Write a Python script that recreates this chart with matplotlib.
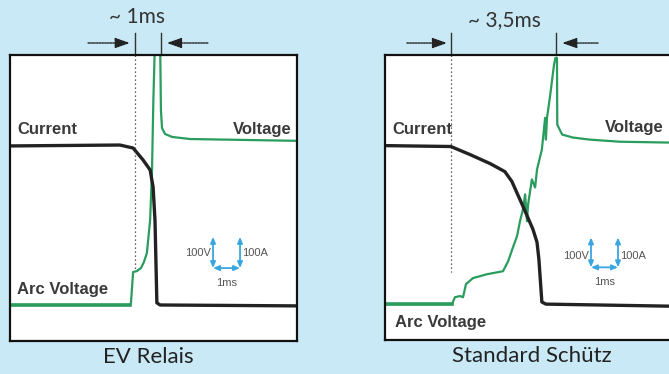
import matplotlib
matplotlib.use("Agg")
import matplotlib.pyplot as plt

# ---------------- data (x in ms, y in V / A; 100 units = one scale step) -------------
# EV Relais panel
ev_current_t = [0, 4.07, 4.56, 4.93, 5.19, 5.30, 5.37, 5.44, 5.56, 10.63]
ev_current_v = [530, 533, 523, 483, 450, 393, 283, 7, 0, -3]
ev_voltage_t = [0, 4.44, 4.48, 4.56, 4.70, 4.85, 4.96, 5.07, 5.19, 5.26, 5.31, 5.37,
                5.56, 5.59, 5.63, 5.74, 6.00, 6.67, 10.63]
ev_voltage_v = [0, 0, 7, 110, 113, 123, 143, 173, 283, 450, 683, 883,
                883, 650, 590, 570, 560, 553, 547]

# Standard Schuetz panel
st_current_t = [0, 2.44, 3.15, 3.89, 4.44, 4.70, 5.11, 5.48, 5.63, 5.70, 5.81, 5.96, 10.63]
st_current_v = [530, 527, 500, 470, 443, 410, 327, 250, 207, 150, 7, 0, -7]
st_voltage_t = [0, 2.48, 2.59, 2.78, 2.89, 3.00, 3.26, 3.78, 4.37, 4.56, 4.74, 4.89, 5.00,
                5.11, 5.19, 5.26, 5.30, 5.44, 5.56, 5.63, 5.81, 5.93, 5.96, 6.00, 6.11,
                6.19, 6.26, 6.31, 6.37, 6.38, 6.56, 6.96, 7.59, 8.70, 10.63]
st_voltage_v = [0, 0, 23, 27, 23, 67, 87, 100, 110, 143, 190, 227, 277,
                317, 367, 277, 333, 417, 390, 450, 517, 623, 550, 623, 693,
                750, 800, 823, 823, 600, 567, 557, 550, 543, 540]

panels = [
    dict(title="EV Relais", span_label="~ 1ms",
         cur_t=ev_current_t, cur_v=ev_current_v,
         vol_t=ev_voltage_t, vol_v=ev_voltage_v,
         marker_t=[4.63, 5.59], dotted_end=117,
         arrow_l=(2.89, 4.44), arrow_r=(7.33, 5.81), span_x=4.72, span_y=960,
         scale_x=(7.52, 8.52), scale_y=(123, 227), scale_text_y=173,
         cur_lbl=(0.26, 585), vol_lbl=(10.45, 585, 'right'), arc_lbl=(0.26, 50),
         title_x=5.13,
         pos=[10 / 669, 33 / 374, 287 / 669, 286 / 374]),
    dict(title="Standard Schütz", span_label="~ 3,5ms",
         cur_t=st_current_t, cur_v=st_current_v,
         vol_t=st_voltage_t, vol_v=st_voltage_v,
         marker_t=[2.44, 6.33], dotted_end=107,
         arrow_l=(0.81, 2.30), arrow_r=(7.89, 6.56), span_x=4.41, span_y=950,
         scale_x=(7.63, 8.63), scale_y=(123, 223), scale_text_y=160,
         cur_lbl=(0.26, 585), vol_lbl=(8.15, 590, 'left'), arc_lbl=(0.37, -60),
         title_x=5.44,
         pos=[385 / 669, 34 / 374, 287 / 669, 285 / 374]),
]

BG = "#c9e9f6"
GREEN = "#2a9c5e"
BLACK = "#222222"
BLUE = "#3aa6e0"

fig = plt.figure(figsize=(6.69, 3.74), dpi=100)
fig.patch.set_facecolor(BG)

for p in panels:
    ax = fig.add_axes(p["pos"])
    ax.set_facecolor("white")
    ax.set_xlim(0, 10.63)
    ax.set_ylim(-120, 833)
    ax.set_xticks([])
    ax.set_yticks([])
    for s in ax.spines.values():
        s.set_linewidth(1.6)
        s.set_color("#111111")

    # traces
    ax.plot(p["vol_t"], p["vol_v"], color=GREEN, lw=1.6, solid_joinstyle="round")
    ax.plot(p["cur_t"], p["cur_v"], color=BLACK, lw=2.4, solid_joinstyle="round")
    ax.plot(p["vol_t"][:2], p["vol_v"][:2], color=GREEN, lw=2.6)

    # dotted start marker
    t0, t1 = p["marker_t"]
    ax.plot([t0, t0], [833, p["dotted_end"]], color="#333333", lw=0.9,
            linestyle=(0, (1, 2.2)))
    for t in (t0, t1):
        ax.plot([t, t], [833, 905], color="#333333", lw=1.0, clip_on=False)

    for (a, b) in (p["arrow_l"], p["arrow_r"]):
        ax.annotate("", xy=(b, 873), xytext=(a, 873), annotation_clip=False,
                    arrowprops=dict(arrowstyle="-|>,head_length=0.9,head_width=0.32",
                                    color="#222222", lw=1.0, shrinkA=0, shrinkB=0,
                                    linestyle=(0, (1.2, 0.8))))

    ax.text(p["span_x"], p["span_y"], p["span_label"], ha="center", va="center",
            fontsize=15, family="Lato", color="#333333", clip_on=False)

    lbl = dict(fontsize=12, family="Liberation Sans", fontweight="bold",
               color="#3a3a3a", va="center")
    ax.text(p["cur_lbl"][0], p["cur_lbl"][1], "Current", ha="left", **lbl)
    ax.text(p["vol_lbl"][0], p["vol_lbl"][1], "Voltage", ha=p["vol_lbl"][2], **lbl)
    ax.text(p["arc_lbl"][0], p["arc_lbl"][1], "Arc Voltage", ha="left", **lbl)

    x0, x1 = p["scale_x"]
    y0, y1 = p["scale_y"]
    for x in (x0, x1):
        ax.annotate("", xy=(x, y1), xytext=(x, y0),
                    arrowprops=dict(arrowstyle="<|-|>,head_length=0.35,head_width=0.15",
                                    color=BLUE, lw=1.3, shrinkA=0, shrinkB=0))
    ax.annotate("", xy=(x1, y0), xytext=(x0, y0),
                arrowprops=dict(arrowstyle="<|-|>,head_length=0.35,head_width=0.15",
                                color=BLUE, lw=1.3, shrinkA=0, shrinkB=0))
    small = dict(fontsize=8, family="Liberation Sans", color="#555555", va="center")
    ax.text(x0 - 0.08, p["scale_text_y"], "100V", ha="right", **small)
    ax.text(x1 + 0.08, p["scale_text_y"], "100A", ha="left", **small)
    ax.text((x0 + x1) / 2, y0 - 50, "1ms", ha="center", **small)

    ax.text(p["title_x"], -173, p["title"], ha="center", va="center", fontsize=16,
            family="Lato", color="#222222", clip_on=False)

fig.savefig("out.png", dpi=100, facecolor=BG)
